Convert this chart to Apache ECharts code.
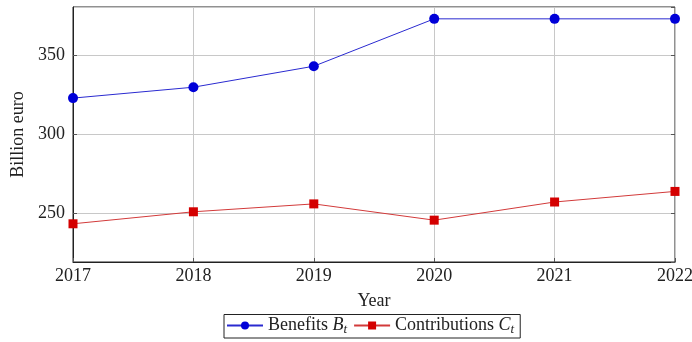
<!DOCTYPE html>
<html>
<head>
<meta charset="utf-8">
<script src="https://cdn.jsdelivr.net/npm/echarts@6/dist/echarts.min.js"></script>
<style>
    html, body { margin: 0; padding: 0; background: #fff; }
    #chart { width: 692px; height: 342px; }
</style>
</head>
<body>
<div id="chart"></div>
<script>
var years = ['2017', '2018', '2019', '2020', '2021', '2022'];
var benefits = [322.8, 329.7, 343.0, 373.0, 373.0, 373.0];
var contributions = [243.2, 250.8, 255.8, 245.5, 257.0, 263.7];

var serif = 'Liberation Serif';
var fs = 18;

var lineChart = function () {
    var box = echarts.init(document.getElementById('chart'));
    var option = {
        animation: false,
        grid: {
            left: 73, right: 17, top: 7, bottom: 80,
            outerBoundsMode: 'none',
            show: true, borderColor: '#222', borderWidth: 1
        },
        legend: {
            bottom: 4,
            left: 224,
            itemWidth: 36,
            itemHeight: 10,
            itemGap: 6,
            padding: [2, 6, 2, 2],
            borderColor: '#222',
            borderWidth: 1,
            borderRadius: 0,
            data: ['Benefits', 'Contributions'],
            formatter: function (name) {
                var sym = name === 'Benefits' ? 'B' : 'C';
                return '{n|' + name + ' }{i|' + sym + '}{s|t}';
            },
            textStyle: {
                fontFamily: serif,
                fontSize: fs,
                color: '#222',
                rich: {
                    n: { fontFamily: serif, fontSize: fs, color: '#222' },
                    i: { fontFamily: serif, fontSize: fs, fontStyle: 'italic', color: '#222' },
                    s: { fontFamily: serif, fontSize: 13, fontStyle: 'italic', color: '#222', padding: [8, 0, 0, 0] }
                }
            }
        },
        xAxis: {
            type: 'category',
            data: years,
            boundaryGap: false,
            name: 'Year',
            nameLocation: 'middle',
            nameGap: 30,
            nameTextStyle: { fontFamily: serif, fontSize: fs, color: '#222' },
            axisLine: { lineStyle: { color: '#222' } },
            axisTick: { inside: true, length: 4, lineStyle: { color: '#555' } },
            axisLabel: { fontFamily: serif, fontSize: fs, color: '#222', margin: 5 },
            splitLine: { show: true, lineStyle: { color: '#c8c8c8' } }
        },
        yAxis: [{
            type: 'value',
            min: 219,
            max: 380.5,
            splitNumber: 3,
            name: 'Billion euro',
            nameLocation: 'middle',
            nameGap: 40,
            nameTextStyle: { fontFamily: serif, fontSize: fs, color: '#222' },
            axisLine: { show: true, lineStyle: { color: '#222' } },
            axisTick: { show: true, inside: true, length: 4, lineStyle: { color: '#555' } },
            axisLabel: { fontFamily: serif, fontSize: fs, color: '#222', margin: 8, showMinLabel: false, showMaxLabel: false },
            splitLine: { show: true, lineStyle: { color: '#c8c8c8' } }
        }, {
            type: 'value',
            position: 'right',
            min: 219,
            max: 380.5,
            splitNumber: 3,
            axisLine: { show: false },
            axisTick: { show: true, inside: true, length: 4, lineStyle: { color: '#555' } },
            axisLabel: { show: false },
            splitLine: { show: false }
        }],
        series: [{
            name: 'Benefits',
            type: 'line',
            data: benefits,
            symbol: 'circle',
            symbolSize: 10,
            lineStyle: { color: '#2a2ad0', width: 1 },
            itemStyle: { color: '#0000d8' }
        }, {
            name: 'Contributions',
            type: 'line',
            data: contributions,
            symbol: 'rect',
            symbolSize: 9,
            lineStyle: { color: '#d23a3a', width: 1 },
            itemStyle: { color: '#d40000' }
        }]
    };
    box.setOption(option);
};

lineChart();
</script>
</body>
</html>
